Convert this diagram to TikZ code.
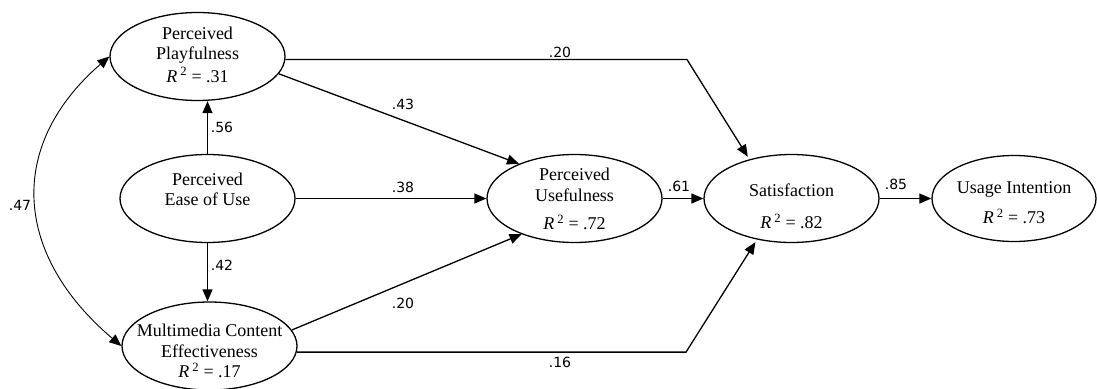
\documentclass[tikz,border=0pt]{standalone}
\usepackage{fontspec}
\setmainfont{Liberation Serif}
\newfontfamily\labfont{DejaVu Sans}
\usetikzlibrary{arrows.meta,shapes.geometric}
\begin{document}
\begin{tikzpicture}[x=1pt,y=-1pt,
  construct/.style={draw,line width=1.3pt,ellipse,inner sep=0pt,
    minimum width=175pt,minimum height=88pt},
  ctext/.style={align=center,inner sep=0pt,font=\fontsize{18}{20.5}\selectfont},
  lab/.style={inner sep=0pt,font=\labfont\fontsize{14}{16}\selectfont},
  path/.style={line width=1.3pt,-{Triangle[length=12pt,width=10pt]}},
  corr/.style={line width=0.9pt,{Triangle[length=12pt,width=10pt]}-{Triangle[length=12pt,width=10pt]}}]
\useasboundingbox (0,0) rectangle (1097,388);

% constructs
\node[construct] (pp)  at (197.5,56.5) {};
\node[construct] (peu) at (207.5,198.5) {};
\node[construct] (mce) at (209.5,346) {};
\node[construct] (pu)  at (574.5,198.5) {};
\node[construct] (sat) at (791.5,198.5) {};
\node[construct,minimum width=164pt,minimum height=86pt] (ui) at (1014,198.5) {};

% construct names and explained variance
\node[ctext] (pptx)  at (197.5,54.5) {Perceived\\Playfulness\\[2pt]\textit{R}\,\textsuperscript{2} = .31};
\node[ctext] (peutx) at (207.5,189.5) {Perceived\\Ease of Use};
\node[ctext] (mcetx) at (209.5,351) {Multimedia Content\\Effectiveness\\\textit{R}\,\textsuperscript{2} = .17};
\node[ctext] (putx)  at (574.5,199) {Perceived\\Usefulness\\[8pt]\textit{R}\,\textsuperscript{2} = .72};
\node[ctext] (sattx) at (791.5,206.5) {Satisfaction\\[12pt]\textit{R}\,\textsuperscript{2} = .82};
\node[ctext] (uitx)  at (1014,202.5) {Usage Intention\\[10pt]\textit{R}\,\textsuperscript{2} = .73};

% bend points of the two paths into satisfaction
\coordinate (b1) at (687,59);
\coordinate (b2) at (686,352);

% structural paths
\draw[path] (peu.north) -- (peu.north |- pp.south);
\draw[path] (peu.south) -- (peu.south |- mce.north);
\draw[path] (pp.-12) -- (pu.148);
\draw[path] (peu.east) -- (pu.west);
\draw[path] (mce.11) -- (pu.214);
\draw[path,shorten >=3pt] (pp.-2) -- (pp.-2 -| b1) -- (sat.137);
\draw[path,shorten >=3pt] (mce.-4) -- (mce.-4 -| b2) -- (sat.230);
\draw[path] (pu.east) -- (sat.west);
\draw[path] (sat.east) -- (ui.west);

% correlation between playfulness and content effectiveness
\draw[corr] (pp.west) .. controls (5,147) and (15,256) .. (mce.west);

% coefficients
\node[lab] (c56) at (222,127) {.56};
\node[lab] (c42) at (222,265) {.42};
\node[lab] (c43) at (403,104) {.43};
\node[lab] (c38) at (403,187) {.38};
\node[lab] (c20b) at (403,303) {.20};
\node[lab] (c20a) at (560,52) {.20};
\node[lab] (c16) at (560,362) {.16};
\node[lab] (c61) at (679,186) {.61};
\node[lab] (c85) at (896,184) {.85};
\node[lab] (c47) at (20,205) {.47};
\end{tikzpicture}
\end{document}
